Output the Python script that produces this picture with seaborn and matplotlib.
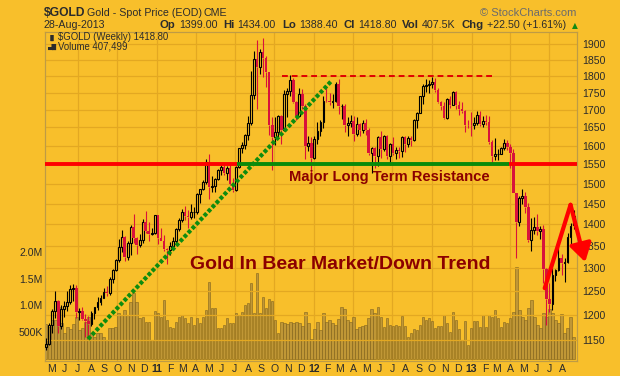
import matplotlib
matplotlib.use('Agg')
import matplotlib.pyplot as plt
import seaborn as sns
import pandas as pd
import numpy as np

# weekly $GOLD candles, weeks starting Mon 2010-04-19 ... 2013-08-26
opens_2010 = [1136, 1142, 1179, 1209, 1228, 1177, 1213, 1218, 1226, 1254, 1256, 1207, 1209, 1191, 1188, 1181, 1204, 1217, 1226,
              1236, 1248, 1246, 1276, 1296, 1318, 1346, 1369, 1325, 1357, 1394, 1367, 1352, 1363, 1406, 1385, 1378, 1380]
highs_2010 = [1155, 1183, 1213, 1249, 1231, 1220, 1229, 1250, 1262, 1265, 1262, 1215, 1216, 1202, 1199, 1208, 1217, 1237, 1242,
              1256, 1260, 1280, 1298, 1319, 1365, 1387, 1372, 1360, 1398, 1424, 1370, 1378, 1412, 1432, 1405, 1390, 1422]
lows_2010 = [1131, 1140, 1164, 1195, 1165, 1172, 1196, 1208, 1223, 1228, 1195, 1189, 1189, 1157, 1155, 1177, 1192, 1210, 1221,
             1235, 1240, 1241, 1268, 1293, 1313, 1335, 1315, 1318, 1329, 1357, 1330, 1348, 1356, 1380, 1360, 1375, 1378]
closes_2010 = [1142, 1179, 1209, 1228, 1177, 1213, 1218, 1226, 1254, 1256, 1207, 1209, 1191, 1188, 1181, 1204, 1217, 1226, 1236,
               1248, 1246, 1276, 1296, 1318, 1346, 1369, 1325, 1357, 1394, 1367, 1352, 1363, 1406, 1385, 1378, 1380, 1421]

opens_2011 = [1421, 1368, 1361, 1343, 1341, 1349, 1361, 1388, 1410, 1430, 1420, 1418, 1429, 1430, 1474, 1486, 1504, 1556, 1491,
              1494, 1511, 1536, 1542, 1528, 1539, 1500, 1483, 1542, 1594, 1602, 1628, 1663, 1742, 1852, 1828, 1876, 1856, 1813,
              1656, 1624, 1636, 1683, 1642, 1746, 1755, 1788, 1724, 1683, 1746, 1712, 1598, 1606]
highs_2011 = [1423, 1391, 1375, 1345, 1359, 1370, 1392, 1416, 1437, 1445, 1435, 1448, 1441, 1476, 1487, 1509, 1563, 1577, 1519,
              1515, 1537, 1550, 1551, 1545, 1557, 1514, 1545, 1594, 1610, 1632, 1681, 1815, 1878, 1913, 1884, 1921, 1863, 1814,
              1680, 1680, 1685, 1685, 1757, 1763, 1802, 1794, 1725, 1763, 1760, 1717, 1626, 1623]
lows_2011 = [1353, 1360, 1338, 1309, 1328, 1341, 1357, 1385, 1405, 1411, 1392, 1412, 1414, 1424, 1451, 1483, 1500, 1462, 1478,
             1479, 1508, 1523, 1521, 1508, 1496, 1478, 1481, 1540, 1580, 1591, 1616, 1658, 1732, 1702, 1806, 1797, 1767, 1628,
             1534, 1602, 1623, 1604, 1641, 1680, 1741, 1719, 1670, 1683, 1703, 1565, 1585, 1523]
closes_2011 = [1368, 1361, 1343, 1341, 1349, 1361, 1388, 1410, 1430, 1420, 1418, 1429, 1430, 1474, 1486, 1504, 1556, 1491, 1494,
               1511, 1536, 1542, 1528, 1539, 1500, 1483, 1542, 1594, 1602, 1628, 1663, 1742, 1852, 1828, 1876, 1856, 1813, 1656,
               1624, 1636, 1683, 1642, 1746, 1755, 1788, 1724, 1683, 1746, 1712, 1598, 1606, 1566]

opens_2012 = [1566, 1617, 1640, 1665, 1727, 1725, 1723, 1726, 1776, 1711, 1712, 1657, 1662, 1669, 1631, 1659, 1642, 1662, 1642,
              1580, 1592, 1573, 1622, 1591, 1627, 1572, 1604, 1579, 1589, 1584, 1622, 1603, 1620, 1616, 1671, 1692, 1740, 1770,
              1773, 1775, 1781, 1758, 1724, 1712, 1676, 1731, 1714, 1751, 1713, 1702, 1697, 1658]
highs_2012 = [1626, 1665, 1672, 1740, 1764, 1749, 1745, 1781, 1792, 1718, 1716, 1678, 1684, 1683, 1678, 1663, 1670, 1673, 1648,
              1597, 1596, 1627, 1641, 1628, 1628, 1606, 1624, 1596, 1596, 1626, 1626, 1625, 1627, 1675, 1694, 1741, 1776, 1790,
              1787, 1796, 1795, 1765, 1727, 1722, 1734, 1739, 1754, 1754, 1725, 1723, 1699, 1671]
lows_2012 = [1564, 1604, 1627, 1649, 1722, 1714, 1704, 1723, 1688, 1673, 1636, 1627, 1651, 1613, 1625, 1627, 1634, 1630, 1574,
             1527, 1540, 1546, 1566, 1586, 1563, 1548, 1574, 1565, 1567, 1570, 1582, 1597, 1598, 1613, 1649, 1691, 1717, 1753,
             1750, 1764, 1752, 1720, 1700, 1673, 1673, 1706, 1713, 1703, 1686, 1690, 1636, 1648]
closes_2012 = [1617, 1640, 1665, 1727, 1725, 1723, 1726, 1776, 1711, 1712, 1657, 1662, 1669, 1631, 1659, 1642, 1662, 1642, 1580,
               1592, 1573, 1622, 1591, 1627, 1572, 1604, 1579, 1589, 1584, 1622, 1603, 1620, 1616, 1671, 1692, 1740, 1770, 1773,
               1775, 1781, 1758, 1724, 1712, 1676, 1731, 1714, 1751, 1713, 1702, 1697, 1658, 1657]

opens_2013 = [1657, 1656, 1662, 1686, 1659, 1667, 1666, 1609, 1572, 1577, 1578, 1592, 1608, 1596, 1581, 1476, 1405, 1463, 1468,
              1441, 1364, 1386, 1393, 1383, 1388, 1297, 1234, 1223, 1284, 1295, 1322, 1310, 1312, 1371, 1399]
highs_2013 = [1694, 1680, 1696, 1697, 1681, 1684, 1681, 1616, 1620, 1590, 1597, 1617, 1615, 1605, 1590, 1476, 1469, 1487, 1479,
              1451, 1416, 1418, 1424, 1395, 1397, 1300, 1267, 1300, 1298, 1348, 1331, 1323, 1380, 1404, 1434]
lows_2013 = [1626, 1645, 1658, 1653, 1651, 1656, 1603, 1555, 1562, 1562, 1577, 1588, 1589, 1540, 1476, 1321, 1395, 1448, 1427,
             1359, 1338, 1377, 1375, 1365, 1268, 1180, 1207, 1211, 1271, 1293, 1285, 1270, 1311, 1354, 1388.4]
closes_2013 = [1656, 1662, 1686, 1659, 1667, 1666, 1609, 1572, 1577, 1578, 1592, 1608, 1596, 1581, 1476, 1405, 1463, 1468, 1441,
               1364, 1386, 1393, 1383, 1388, 1297, 1234, 1223, 1284, 1295, 1322, 1310, 1312, 1371, 1396, 1418.8]

# weekly volume, thousands
volume_k = [650, 600, 725, 725, 975, 663, 475, 600, 550, 650, 787, 537, 568, 693, 787, 475, 412, 475, 475, 412, 350, 568, 568,
            600, 850, 818, 912, 818, 1067, 1225, 1067, 756, 787, 693, 693,
            350, 893, 850, 787, 1099, 725, 600, 568, 693, 787, 818, 756, 663, 787, 631, 756, 663, 787, 912, 1442, 943, 943,
            568, 568, 631, 756, 663, 663, 850, 818, 880, 1005, 1050, 1412, 850, 1599,
            850, 1161, 943, 1112, 1087, 725, 475, 681, 663, 650, 693, 675, 687, 675, 612, 880, 663, 363, 550, 693, 537, 850,
            693, 725, 663, 631, 750, 962, 924, 725, 693, 775, 562, 587,
            612, 631, 756, 924, 862, 962, 787, 600, 756, 631, 612, 631, 612, 800, 612, 400, 475, 550, 537, 631, 775, 725, 756,
            700, 568, 612, 612, 818, 663, 506, 880, 725, 550, 350, 706,
            256, 568, 706, 706, 600, 818, 600, 818, 787, 912, 756, 600, 681, 663, 768, 875, 1711, 912, 787, 725, 943, 1099,
            775, 631, 568, 850, 787, 924, 850, 725, 663, 837, 475, 568, 775, 407]

price_ticks = list(range(1150, 1901, 50))
volume_ticks = [500, 1000, 1500, 2000]
volume_labels = ['500K', '1.0M', '1.5M', '2.0M']

sns.set_theme(style='white')
plt.rcParams['font.family'] = ['Liberation Sans', 'DejaVu Sans']

W, H = 620, 376
BG = '#F8BF2B'
GRID = '#E3A822'
EDGE = '#BE9B45'
TXT = '#2b2b2b'
DOWN = '#D8123C'
MAROON = '#8B0000'


def fx(x):
    return x / W


def fy(y):
    return 1 - y / H


df = pd.DataFrame({
    'date': pd.date_range('2010-04-19', periods=len(closes_2010 + closes_2011 + closes_2012 + closes_2013), freq='W-MON'),
    'open': opens_2010 + opens_2011 + opens_2012 + opens_2013,
    'high': highs_2010 + highs_2011 + highs_2012 + highs_2013,
    'low': lows_2010 + lows_2011 + lows_2012 + lows_2013,
    'close': closes_2010 + closes_2011 + closes_2012 + closes_2013,
    'volume': volume_k,
})
df['up'] = df['close'] >= df['open']
df['body_lo'] = df[['open', 'close']].min(axis=1)
df['body_hi'] = df[['open', 'close']].max(axis=1)

fig = plt.figure(figsize=(W / 100, H / 100), dpi=100, facecolor=BG)
ax = fig.add_axes([fx(45), fy(361), (577 - 45) / W, (361 - 32) / H])
ax.set_facecolor(BG)
axp = ax.twinx()

# volume bars (left scale)
for d in pd.date_range('2010-07-01', '2013-07-01', freq='QS'):
    ax.axvline(d, color=GRID, lw=0.9, zorder=0)
ax.bar(df['date'], df['volume'], width=5.6, color='#B28D3A', alpha=0.8,
       edgecolor='#80631F', linewidth=0.5, zorder=2)
ax.set_ylim(-43, 6118)
ax.set_yticks(volume_ticks, volume_labels)
ax.set_xlim(pd.Timestamp('2010-04-16'), pd.Timestamp('2013-09-03'))

months = pd.date_range('2010-05-01', '2013-08-01', freq='MS')
month_labels = [f'{d.year % 100:02d}' if d.month == 1 else 'JFMAMJJASOND'[d.month - 1] for d in months]
ax.set_xticks(months, month_labels)
for lab, d in zip(ax.get_xticklabels(), months):
    if d.month == 1:
        lab.set_fontweight('bold')
        lab.set_fontsize(9.5)
ax.tick_params(axis='x', length=0, pad=2.5, labelsize=7.6, labelcolor=TXT)
ax.tick_params(axis='y', length=0, pad=1.5, labelsize=7.6, labelcolor=TXT)

# price candles (right, log scale)
axp.set_yscale('log')
axp.set_ylim(1110, 1940)
axp.set_yticks(price_ticks, [str(t) for t in price_ticks])
axp.yaxis.set_minor_locator(matplotlib.ticker.NullLocator())
axp.tick_params(axis='y', length=0, pad=4, labelsize=7.6, labelcolor=TXT)
axp.grid(axis='y', color=GRID, lw=0.9)
axp.set_axisbelow(True)

wick_colors = np.where(df['up'], 'black', DOWN)
axp.vlines(df['date'], df['low'], df['body_lo'], colors=wick_colors, lw=0.8, zorder=3)
axp.vlines(df['date'], df['body_hi'], df['high'], colors=wick_colors, lw=0.8, zorder=3)
up = df[df['up']]
dn = df[~df['up']]
axp.bar(up['date'], up['close'] - up['open'], bottom=up['open'], width=4.4,
        facecolor='none', edgecolor='black', linewidth=0.8, zorder=4)
axp.bar(dn['date'], dn['open'] - dn['close'], bottom=dn['close'], width=5.8,
        color=DOWN, linewidth=0, zorder=4)

for a in (ax, axp):
    for s in a.spines.values():
        s.set_color(EDGE)
        s.set_linewidth(0.8)

# annotations
T = pd.Timestamp
axp.plot([T('2011-07-06'), T('2013-03-29')], [1550, 1550], color='#0A8A0A', lw=2.8,
         solid_capstyle='butt', zorder=5)
axp.plot([T('2010-04-16'), T('2011-07-06')], [1550, 1550], color='#FF0000', lw=2.8,
         solid_capstyle='butt', zorder=5)
axp.plot([T('2013-03-29'), T('2013-09-03')], [1550, 1550], color='#FF0000', lw=2.8,
         solid_capstyle='butt', zorder=5)
axp.plot([T('2011-10-19'), T('2013-02-25')], [1800, 1800], color='#E00000', lw=1.4,
         linestyle=(0, (3, 2)), zorder=5)
axp.plot([T('2010-07-25'), T('2012-02-11')], [1152, 1786], color='#0E8C0E', lw=3.0,
         linestyle=(0, (0.9, 0.5)), zorder=5)
axp.plot([T('2013-06-20'), T('2013-08-19')], [1256, 1447], color='#FF0000', lw=3.0,
         solid_capstyle='round', zorder=6)
axp.annotate('', xy=(T('2013-09-22'), 1313), xytext=(T('2013-08-19'), 1447),
             arrowprops=dict(arrowstyle='-|>,head_length=0.9,head_width=0.55', color='#FF0000', lw=3.0,
                             shrinkA=0, shrinkB=0),
             annotation_clip=False, zorder=6)

fig.text(fx(190), fy(269.3), 'Gold In Bear Market/Down Trend', fontsize=14, fontweight='bold',
         color=MAROON, va='baseline')
fig.text(fx(289), fy(180.7), 'Major Long Term Resistance', fontsize=10.6, fontweight='bold',
         color=MAROON, va='baseline')

fig.text(fx(57.5), fy(37.5), '$GOLD (Weekly) 1418.80', fontsize=6.9, color=TXT, va='center')
fig.text(fx(57.5), fy(46.5), 'Volume 407,499', fontsize=6.9, color=TXT, va='center')
fig.text(fx(47.5), fy(37.5), '\u2590\u258c', fontsize=4.2, color=TXT, va='center', family=['DejaVu Sans'])
fig.text(fx(47.5), fy(46.5), '\u2584\u2588', fontsize=4.2, color=TXT, va='center', family=['DejaVu Sans'])

# header
fig.text(fx(44), fy(12.5), '$GOLD', fontsize=8.7, fontweight='bold', color=TXT, va='center')
fig.text(fx(87), fy(12.5), 'Gold - Spot Price (EOD)', fontsize=7.7, color=TXT, va='center')
fig.text(fx(204), fy(12.5), 'CME', fontsize=7.7, color=TXT, va='center')
fig.text(fx(576), fy(12.5), '\u00a9 StockCharts.com', fontsize=8, color='#6b6b6b', va='center', ha='right')
fig.text(fx(44), fy(25.5), '28-Aug-2013', fontsize=7.7, color=TXT, va='center')

pieces = [('Op', True), ('1399.00', False), ('Hi', True), ('1434.00', False), ('Lo', True), ('1388.40', False),
          ('Cl', True), ('1418.80', False), ('Vol', True), ('407.5K', False), ('Chg', True), ('+22.50 (+1.61%)', False)]
renderer = fig.canvas.get_renderer()
x = 160
for s, bold in pieces:
    t = fig.text(fx(x), fy(25.5), s, fontsize=7.7 if not bold else 8.2,
                 fontweight='bold' if bold else 'normal', color=TXT, va='center')
    x += t.get_window_extent(renderer).width + (3 if bold else 6)
fig.text(fx(x), fy(25.5), '\u25b2', fontsize=5.5, color='#128A12', va='center',
         family=['DejaVu Sans'])

fig.savefig('out.png', dpi=100, facecolor=BG)
